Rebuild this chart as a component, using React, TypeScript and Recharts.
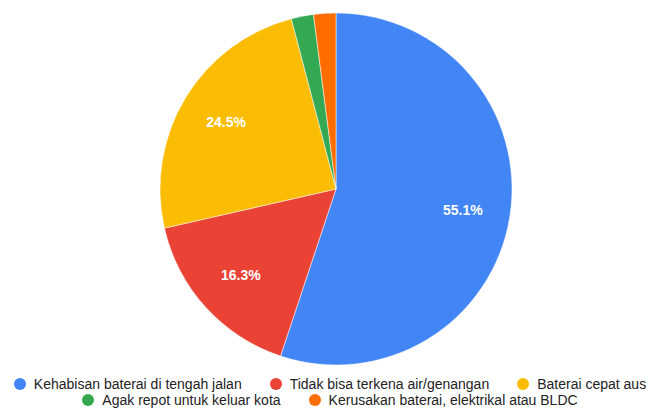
import React from "react";
import { PieChart, Pie, Cell, Legend } from "recharts";

const categories = [
  "Kehabisan baterai di tengah jalan",
  "Tidak bisa terkena air/genangan",
  "Baterai cepat aus",
  "Agak repot untuk keluar kota",
  "Kerusakan baterai, elektrikal atau BLDC",
];
const counts = [54, 16, 24, 2, 2];
const colors = ["#4285F4", "#EA4335", "#FBBC04", "#34A853", "#FF6D01"];
const legendRows = [[0, 1, 2], [3, 4]];

const data = categories.map((name, i) => ({ name, value: counts[i] }));
const RADIAN = Math.PI / 180;

const renderLabel = (props: any) => {
  const { cx, cy, midAngle, outerRadius, percent } = props;
  if (percent < 0.05) return null;
  const r = outerRadius * 0.73;
  const x = cx + r * Math.cos(-midAngle * RADIAN);
  const y = cy + r * Math.sin(-midAngle * RADIAN);
  return (
    <text
      x={x}
      y={y}
      fill="#ffffff"
      textAnchor="middle"
      dominantBaseline="central"
      fontFamily="'Liberation Sans', Arial, sans-serif"
      fontSize={14}
      fontWeight="bold"
    >
      {(percent * 100).toFixed(1) + "%"}
    </text>
  );
};

const renderLegend = () => (
  <div style={{ fontFamily: "'Liberation Sans', Arial, sans-serif", fontSize: 14, color: "#222" }}>
    {legendRows.map((row, ri) => (
      <div
        key={ri}
        style={{ display: "flex", justifyContent: "center", alignItems: "center", height: 16, whiteSpace: "nowrap" }}
      >
        {row.map((idx) => (
          <div key={idx} style={{ display: "flex", alignItems: "center", margin: "0 14px" }}>
            <span
              style={{
                display: "inline-block",
                width: 12,
                height: 12,
                borderRadius: "50%",
                background: colors[idx],
                marginRight: 8,
              }}
            />
            <span>{categories[idx]}</span>
          </div>
        ))}
      </div>
    ))}
  </div>
);

export default function App() {
  return (
    <div style={{ position: "absolute", left: 0, top: 0, width: 660, height: 414, background: "#fff" }}>
      <PieChart width={660} height={414}>
        <Pie
          data={data}
          dataKey="value"
          nameKey="name"
          cx={331}
          cy={184}
          outerRadius={176}
          startAngle={90}
          endAngle={-270}
          stroke="#ffffff"
          strokeWidth={0.5}
          label={renderLabel}
          labelLine={false}
          isAnimationActive={false}
        >
          {data.map((d, i) => (
            <Cell key={d.name} fill={colors[i]} />
          ))}
        </Pie>
        <Legend content={renderLegend} wrapperStyle={{ left: 0, top: 376, width: 660 }} />
      </PieChart>
    </div>
  );
}
